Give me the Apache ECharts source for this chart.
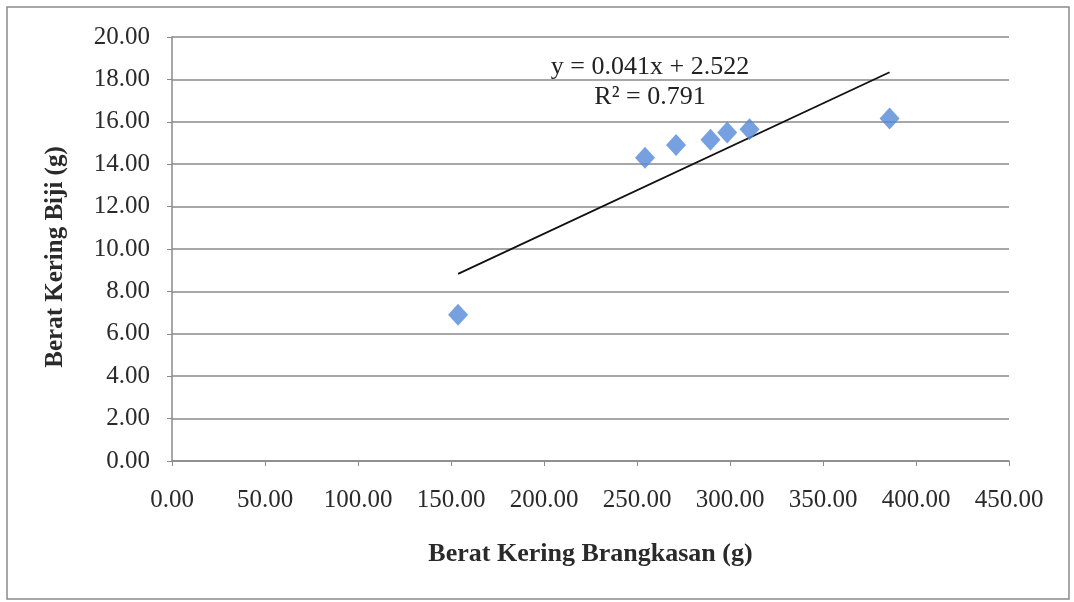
<!DOCTYPE html>
<html><head><meta charset="utf-8">
<script src="https://cdn.jsdelivr.net/npm/echarts@6/dist/echarts.min.js"></script>
<style>html,body{margin:0;padding:0;background:#fff}#c{width:1074px;height:602px}</style>
</head><body><div id="c"></div>
<script>
const brangkasan = [153.8, 254.3, 271.0, 289.5, 298.5, 310.5, 385.8];
const biji = [6.9, 14.3, 14.9, 15.15, 15.5, 15.65, 16.15];
const slope = 0.041;
const intercept = 2.522;
const r2 = '0.791';
const xTicks = [0, 450, 50];
const yTicks = [0, 20, 2];

const points = brangkasan.map((x, i) => [x, biji[i]]);
const xmin = Math.min(...brangkasan), xmax = Math.max(...brangkasan);
const trend = [[xmin, slope * xmin + intercept], [xmax, slope * xmax + intercept]];
const font = '"Liberation Serif", "DejaVu Serif", serif';

const chart = echarts.init(document.getElementById('c'));
chart.setOption({
  animation: false,
  backgroundColor: '#fff',
  grid: { left: 172, right: 65, top: 37, bottom: 141 },
  xAxis: {
    type: 'value', min: xTicks[0], max: xTicks[1], interval: xTicks[2],
    name: 'Berat Kering Brangkasan (g)', nameLocation: 'middle', nameGap: 80,
    nameTextStyle: { fontFamily: font, fontSize: 26, fontWeight: 'bold', color: '#2a2a2a' },
    axisLine: { show: true, lineStyle: { color: '#8a8a8a', width: 1.5 } },
    axisTick: { show: true, length: 5, lineStyle: { color: '#8a8a8a' } },
    axisLabel: { formatter: v => v.toFixed(2), fontFamily: font, fontSize: 25, color: '#2a2a2a', margin: 27 },
    splitLine: { show: false }
  },
  yAxis: {
    type: 'value', min: yTicks[0], max: yTicks[1], interval: yTicks[2],
    name: 'Berat Kering Biji (g)', nameLocation: 'middle', nameGap: 104, nameRotate: 90,
    nameTextStyle: { fontFamily: font, fontSize: 25, fontWeight: 'bold', color: '#2a2a2a', padding: [0, 16, 0, 0] },
    axisLine: { show: true, lineStyle: { color: '#8a8a8a', width: 1.5 } },
    axisTick: { show: true, length: 5, lineStyle: { color: '#8a8a8a' } },
    axisLabel: { formatter: v => v.toFixed(2), fontFamily: font, fontSize: 25, color: '#2a2a2a', margin: 22 },
    splitLine: { show: true, lineStyle: { color: '#8a8a8a', width: 1.5 } }
  },
  series: [
    {
      type: 'line', data: trend, symbol: 'none',
      lineStyle: { color: '#111', width: 1.8 }, silent: true, z: 2
    },
    {
      type: 'scatter', data: points, symbol: 'diamond', symbolSize: [20, 22],
      itemStyle: { color: '#5588d8' }, z: 3
    }
  ],
  graphic: [
    { type: 'rect', shape: { x: 7, y: 7, width: 1062, height: 592 },
      style: { fill: 'none', stroke: '#8a8a8a', lineWidth: 1.5 }, silent: true },
    { type: 'text', x: 650, y: 67,
      style: { text: 'y = ' + slope + 'x + ' + intercept, fontFamily: font, fontSize: 26, fill: '#222', align: 'center', verticalAlign: 'middle' } },
    { type: 'text', x: 650, y: 97,
      style: { text: 'R² = ' + r2, fontFamily: font, fontSize: 26, fill: '#222', align: 'center', verticalAlign: 'middle' } }
  ]
});
</script></body></html>
